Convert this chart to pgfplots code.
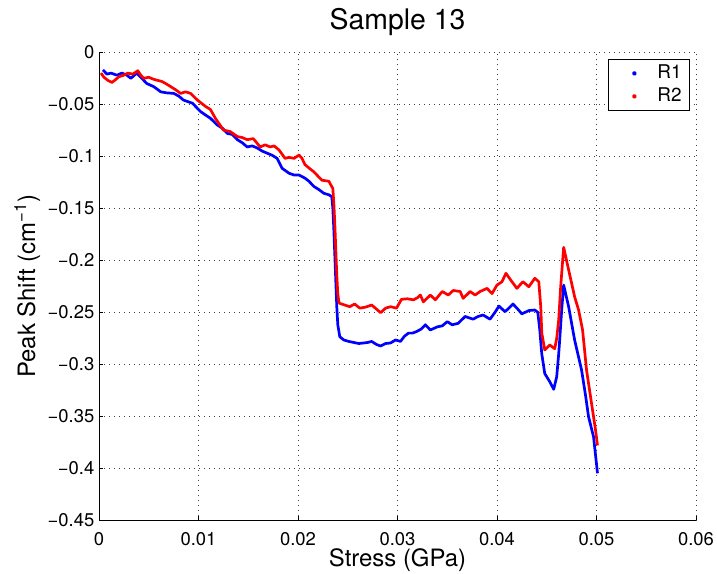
\documentclass[border=0pt]{standalone}
\usepackage{fontspec}
\setmainfont{TeX Gyre Heros}
\usepackage{pgfplots}
\pgfplotsset{compat=1.18}
\begin{document}
\begin{tikzpicture}
\begin{axis}[
  scale only axis,
  width=597bp, height=468bp,
  xmin=0, xmax=0.06, ymin=-0.45, ymax=0,
  axis x line*=bottom, axis y line*=left,
  axis line style={black, line width=0.9bp},
  xtick={0,0.01,0.02,0.03,0.04,0.05,0.06},
  xticklabels={0,0.01,0.02,0.03,0.04,0.05,0.06},
  ytick={-0.45,-0.4,-0.35,-0.3,-0.25,-0.2,-0.15,-0.1,-0.05,0},
  yticklabels={−0.45,−0.4,−0.35,−0.3,−0.25,−0.2,−0.15,−0.1,−0.05,0},
  scaled x ticks=false, scaled y ticks=false,
  tick align=inside, major tick length=4bp,
  tick style={black, line width=0.7bp},
  ticklabel style={font=\fontsize{18.5}{20}\selectfont},
  xticklabel style={anchor=north, inner sep=0pt, yshift=-12bp},
  yticklabel style={anchor=east, inner sep=0pt, xshift=-4.5bp},
  grid=major,
  major grid style={black!75, line width=0.6bp, dash pattern=on 0.8bp off 4.2bp},
  title={Sample 13},
  title style={font=\fontsize{28.5}{30}\selectfont, at={(axis description cs:0.5,1)}, anchor=base, yshift=17.3bp, inner sep=0pt},
  xlabel={Stress (GPa)},
  xlabel style={font=\fontsize{24}{26}\selectfont, at={(axis description cs:0.5,0)}, anchor=base, yshift=-46.4bp, inner sep=0pt},
  ylabel={Peak Shift (cm\textsuperscript{−1})},
  ylabel style={font=\fontsize{24}{26}\selectfont, at={(axis description cs:-0.1072,0.5)}, anchor=base, inner sep=0pt},
  legend style={at={(axis description cs:1,1)}, anchor=north east, xshift=-6bp, yshift=-6.7bp,
    draw=black, line width=0.8bp, fill=white, font=\fontsize{19}{21}\selectfont,
    inner xsep=6bp, inner ysep=2.5bp, row sep=0bp, column sep=0bp,
    nodes={inner xsep=2bp, inner ysep=2.5bp, text height=14bp, text depth=4bp}},
  legend cell align=left,
  legend image code/.code={\path[draw=none, fill=none] (0bp,0bp) -- (41bp,0bp); \fill (20bp,0bp) circle (1.05bp);},
]
\addplot[blue, line width=2.7bp, line join=round] coordinates {
(0.0004,-0.017) (0.0008,-0.021) (0.0012,-0.020) (0.0018,-0.022) (0.0023,-0.020)
(0.0028,-0.022) (0.0032,-0.025) (0.0038,-0.020) (0.0043,-0.025) (0.0048,-0.030)
(0.0055,-0.033) (0.0062,-0.038) (0.0068,-0.039) (0.0075,-0.0395) (0.0080,-0.042)
(0.0085,-0.046) (0.0094,-0.049) (0.0102,-0.057) (0.0112,-0.0635) (0.0119,-0.070)
(0.0124,-0.073) (0.0129,-0.078) (0.0134,-0.079) (0.0139,-0.084) (0.0144,-0.087)
(0.0149,-0.091) (0.0154,-0.090) (0.0159,-0.092) (0.0164,-0.095) (0.0169,-0.097)
(0.0174,-0.099) (0.0179,-0.102) (0.0184,-0.1115) (0.0191,-0.1163) (0.0196,-0.118)
(0.0201,-0.118) (0.0207,-0.121) (0.0211,-0.124) (0.0216,-0.129) (0.0221,-0.132)
(0.0226,-0.1356) (0.0231,-0.137) (0.0234,-0.1388) (0.0235,-0.150) (0.0236,-0.170)
(0.0237,-0.195) (0.0238,-0.220) (0.0239,-0.245) (0.0240,-0.262) (0.0242,-0.2735)
(0.0246,-0.2766) (0.0251,-0.278) (0.0256,-0.279) (0.0261,-0.280) (0.0266,-0.2795)
(0.0270,-0.279) (0.0274,-0.278) (0.0279,-0.281) (0.0283,-0.2824) (0.0288,-0.280)
(0.0293,-0.2795) (0.0298,-0.2766) (0.0303,-0.278) (0.0307,-0.273) (0.0311,-0.270)
(0.0315,-0.270) (0.0319,-0.2686) (0.0324,-0.266) (0.0328,-0.262) (0.0333,-0.267)
(0.0340,-0.264) (0.0345,-0.263) (0.0350,-0.259) (0.0355,-0.262) (0.0361,-0.2606)
(0.0368,-0.254) (0.0376,-0.2566) (0.0381,-0.254) (0.0386,-0.2526) (0.0393,-0.2566)
(0.0398,-0.250) (0.0402,-0.244) (0.0408,-0.2494) (0.0412,-0.246) (0.0416,-0.242)
(0.0420,-0.246) (0.0425,-0.2515) (0.0432,-0.2483) (0.0438,-0.2478) (0.0441,-0.250)
(0.0443,-0.267) (0.0445,-0.290) (0.0448,-0.3089) (0.0453,-0.3167) (0.0457,-0.324)
(0.0460,-0.312) (0.0462,-0.290) (0.0463,-0.2766) (0.0465,-0.2478) (0.0467,-0.2238)
(0.0472,-0.2446) (0.0478,-0.2766) (0.0485,-0.3055) (0.0489,-0.330) (0.0492,-0.3504)
(0.0497,-0.3696) (0.0499,-0.387) (0.0501,-0.4048)
};
\addlegendentry{R1}
\addplot[red, line width=2.7bp, line join=round] coordinates {
(0.0002,-0.020) (0.0005,-0.024) (0.0009,-0.027) (0.0013,-0.029) (0.0017,-0.026)
(0.0020,-0.0235) (0.0025,-0.022) (0.0029,-0.020) (0.0034,-0.021) (0.0039,-0.0177)
(0.0042,-0.022) (0.0045,-0.025) (0.0050,-0.024) (0.0055,-0.026) (0.0063,-0.028)
(0.0067,-0.030) (0.0072,-0.033) (0.0077,-0.036) (0.0082,-0.0395) (0.0087,-0.038)
(0.0092,-0.0395) (0.0099,-0.046) (0.0103,-0.049) (0.0107,-0.052) (0.0112,-0.055)
(0.0117,-0.0635) (0.0125,-0.0747) (0.0132,-0.0763) (0.0139,-0.081) (0.0144,-0.082)
(0.0149,-0.084) (0.0155,-0.083) (0.0162,-0.091) (0.0167,-0.089) (0.0172,-0.091)
(0.0176,-0.090) (0.0181,-0.094) (0.0187,-0.102) (0.0191,-0.101) (0.0196,-0.102)
(0.0201,-0.0988) (0.0204,-0.102) (0.0207,-0.108) (0.0212,-0.112) (0.0216,-0.115)
(0.0220,-0.119) (0.0224,-0.123) (0.0231,-0.124) (0.0235,-0.131) (0.0236,-0.145)
(0.0237,-0.165) (0.0238,-0.190) (0.0239,-0.215) (0.0240,-0.232) (0.0241,-0.240)
(0.0242,-0.2414) (0.0247,-0.243) (0.0252,-0.2446) (0.0257,-0.242) (0.0262,-0.246)
(0.0268,-0.245) (0.0274,-0.243) (0.0279,-0.247) (0.0283,-0.2504) (0.0288,-0.246)
(0.0293,-0.2446) (0.0299,-0.246) (0.0304,-0.2375) (0.0310,-0.237) (0.0316,-0.238)
(0.0320,-0.236) (0.0323,-0.2334) (0.0326,-0.240) (0.0333,-0.2334) (0.0338,-0.238)
(0.0345,-0.230) (0.0351,-0.2334) (0.0356,-0.229) (0.0363,-0.230) (0.0366,-0.2366)
(0.0373,-0.230) (0.0378,-0.2334) (0.0383,-0.230) (0.0390,-0.227) (0.0395,-0.232)
(0.0400,-0.2238) (0.0405,-0.2206) (0.0409,-0.2125) (0.0415,-0.2206) (0.0420,-0.227)
(0.0426,-0.2206) (0.0432,-0.2254) (0.0438,-0.2173) (0.0442,-0.2206) (0.0444,-0.245)
(0.0445,-0.270) (0.0448,-0.2862) (0.0453,-0.2814) (0.0458,-0.285) (0.0460,-0.275)
(0.0462,-0.2574) (0.0464,-0.2254) (0.0467,-0.1875) (0.0472,-0.2093) (0.0478,-0.235)
(0.0482,-0.2478) (0.0486,-0.267) (0.0490,-0.3055) (0.0495,-0.3375) (0.0499,-0.363)
(0.0501,-0.378)
};
\addlegendentry{R2}
\end{axis}
\pgfresetboundingbox
\path[use as bounding box] ([shift={(-99bp,-52.7bp)}]current axis.south west) rectangle ([shift={(21bp,52.3bp)}]current axis.north east);
\end{tikzpicture}
\end{document}
